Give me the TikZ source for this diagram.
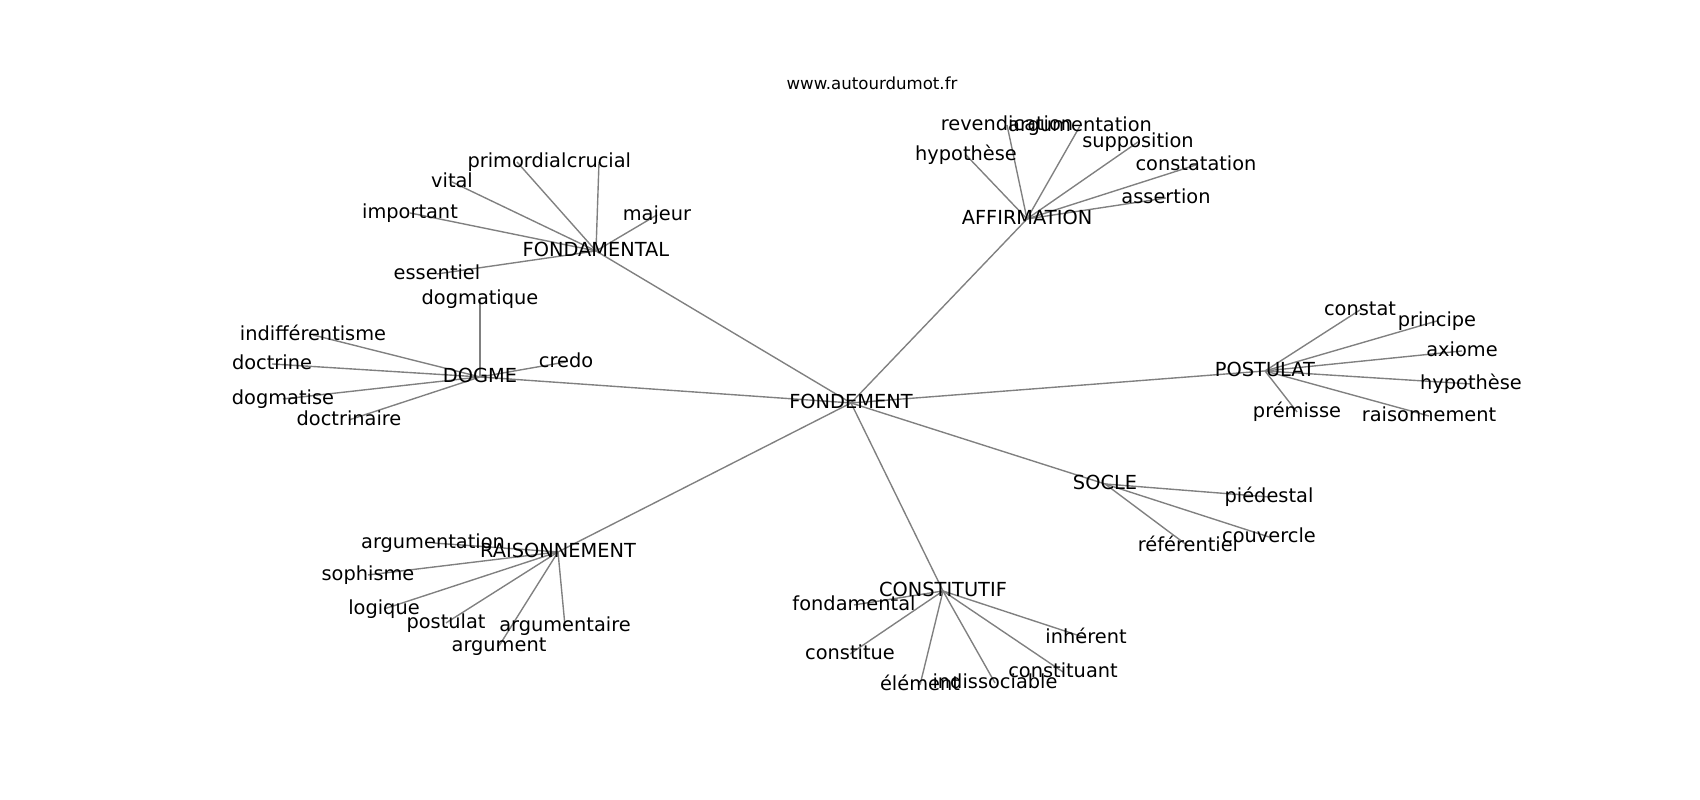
\documentclass[tikz,border=0pt]{standalone}
\usepackage{fontspec}
\setmainfont{DejaVu Sans}
\usepackage{tikz}
\usetikzlibrary{backgrounds}

\begin{document}
\begin{tikzpicture}[x=0.254mm, y=-0.254mm,
word/.style={font=\fontsize{14}{16}\selectfont, inner sep=0pt, text height=10.6pt, text depth=2.9pt, yshift=-0.75mm},
link/.style={draw=gray, line width=1pt}
]
\useasboundingbox (0,0) rectangle (1700,800);

\node[font=\fontsize{12}{14}\selectfont, inner sep=0pt] (titre) at (872,83) {www.autourdumot.fr};

% les mots centraux
\node[word] (fondement) at (851,400) {FONDEMENT};
\node[word] (fondamental) at (596,248) {FONDAMENTAL};
\node[word] (dogme) at (480,374) {DOGME};
\node[word] (affirmation) at (1027,216) {AFFIRMATION};
\node[word] (postulat) at (1265,368) {POSTULAT};
\node[word] (socle) at (1105,481) {SOCLE};
\node[word] (raisonnement) at (558,549) {RAISONNEMENT};
\node[word] (constitutif) at (943,588) {CONSTITUTIF};

% FONDAMENTAL
\node[word] (primordial) at (517,159) {primordial};
\node[word] (crucial) at (599,159) {crucial};
\node[word] (vital) at (452,179) {vital};
\node[word] (important) at (410,210) {important};
\node[word] (majeur) at (657,212) {majeur};
\node[word] (essentiel) at (437,271) {essentiel};

% DOGME
\node[word] (dogmatique) at (480,296) {dogmatique};
\node[word] (indiff) at (313,332) {indifférentisme};
\node[word] (doctrine) at (272,361) {doctrine};
\node[word] (dogmatise) at (283,396) {dogmatise};
\node[word] (doctrinaire) at (349,417) {doctrinaire};
\node[word] (credo) at (566,359) {credo};

% AFFIRMATION
\node[word] (revendication) at (1007,122) {revendication};
\node[word] (argumentationA) at (1080,123) {argumentation};
\node[word] (hypotheseA) at (966,152) {hypothèse};
\node[word] (supposition) at (1138,139) {supposition};
\node[word] (constatation) at (1196,162) {constatation};
\node[word] (assertion) at (1166,195) {assertion};

% POSTULAT
\node[word] (constat) at (1360,307) {constat};
\node[word] (principe) at (1437,318) {principe};
\node[word] (axiome) at (1462,348) {axiome};
\node[word] (hypotheseP) at (1471,381) {hypothèse};
\node[word] (premisse) at (1297,409) {prémisse};
\node[word] (raisonnementP) at (1429,413) {raisonnement};

% SOCLE
\node[word] (piedestal) at (1269,494) {piédestal};
\node[word] (couvercle) at (1269,534) {couvercle};
\node[word] (referentiel) at (1188,543) {référentiel};

% RAISONNEMENT
\node[word] (argumentationR) at (433,540) {argumentation};
\node[word] (sophisme) at (368,572) {sophisme};
\node[word] (logique) at (384,606) {logique};
\node[word] (postulatR) at (446,620) {postulat};
\node[word] (argumentaire) at (565,623) {argumentaire};
\node[word] (argument) at (499,643) {argument};

% CONSTITUTIF
\node[word] (fondamentalC) at (854,602) {fondamental};
\node[word] (constitue) at (850,651) {constitue};
\node[word] (element) at (920,682) {élément};
\node[word] (indissociable) at (995,680) {indissociable};
\node[word] (constituant) at (1063,669) {constituant};
\node[word] (inherent) at (1086,635) {inhérent};

\begin{scope}[on background layer]
\foreach \hub/\mot in {fondement/fondamental, fondement/dogme, fondement/affirmation,
  fondement/postulat, fondement/socle, fondement/raisonnement, fondement/constitutif,
  fondamental/primordial, fondamental/crucial, fondamental/vital, fondamental/important,
  fondamental/majeur, fondamental/essentiel,
  dogme/dogmatique, dogme/indiff, dogme/doctrine, dogme/dogmatise, dogme/doctrinaire, dogme/credo,
  affirmation/revendication, affirmation/argumentationA, affirmation/hypotheseA,
  affirmation/supposition, affirmation/constatation, affirmation/assertion,
  postulat/constat, postulat/principe, postulat/axiome, postulat/hypotheseP,
  postulat/premisse, postulat/raisonnementP,
  socle/piedestal, socle/couvercle, socle/referentiel,
  raisonnement/argumentationR, raisonnement/sophisme, raisonnement/logique,
  raisonnement/postulatR, raisonnement/argumentaire, raisonnement/argument,
  constitutif/fondamentalC, constitutif/constitue, constitutif/element,
  constitutif/indissociable, constitutif/constituant, constitutif/inherent}
  \draw[link] (\hub.center) -- (\mot.center);
\end{scope}
\end{tikzpicture}
\end{document}
